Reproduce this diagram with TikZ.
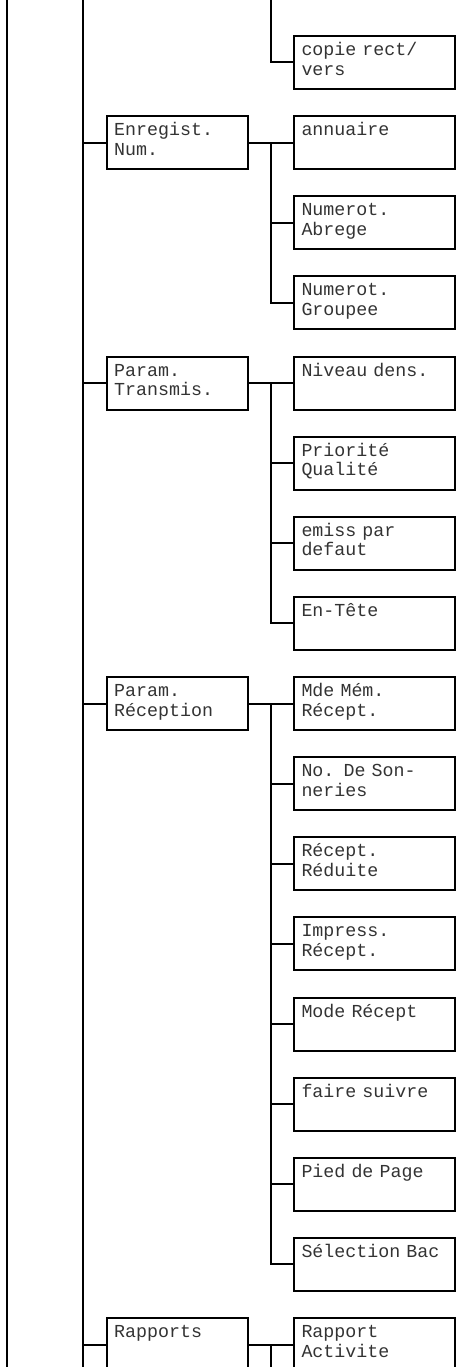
\documentclass[tikz,border=0pt]{standalone}
\usepackage{fontspec}
\newfontfamily\menufont{Liberation Mono}
\usetikzlibrary{calc}

% monospaced menu text: every space one character wide
\newcommand\menutext{\menufont\fontsize{18.3}{19.7}\selectfont
  \spaceskip=10.98pt\relax\xspaceskip=10.98pt\relax}

\tikzset{
  menu/.style={draw, line width=2pt, outer sep=0pt, anchor=north west,
    inner xsep=7.5pt, inner ysep=0pt, text height=19.5pt, text depth=33.5pt,
    align=left, text=black!80, font=\menutext},
  item/.style={menu, text width=146pt},
  group/.style={menu, text width=126pt},
  wire/.style={line width=2pt}
}

\begin{document}
\begin{tikzpicture}[x=1pt, y=-1pt]
\useasboundingbox (0,0) rectangle (456,1367);

% the two long spines on the left
\coordinate (l1t) at (7.3,0);
\coordinate (l1b) at (7.3,1367);
\coordinate (l2t) at (83.3,0);
\coordinate (l2b) at (83.3,1367);
\coordinate (top) at (270.7,0);
\coordinate (bot) at (270.7,1367);
\draw[wire] (l1t) -- (l1b);
\draw[wire] (l2t) -- (l2b);

% tail of the previous group
\node[item] (copie) at (294,36) {copie rect/\\vers};
\draw[wire] (top) |- (copie.west);

% Enregist. Num.
\node[group] (enreg) at (106.7,116.125) {Enregist.\\Num.};
\node[item] (annu) at (294,116.125) {annuaire};
\node[item] (abrege) at (294,196.25) {Numerot.\\Abrege};
\node[item] (groupee) at (294,276.375) {Numerot.\\Groupee};
\coordinate (s1) at ($(enreg.east)!.5!(annu.west)$);
\draw[wire] (l2t |- enreg.west) -- (enreg.west);
\draw[wire] (enreg.east) -- (annu.west);
\draw[wire] (s1) |- (groupee.west) (s1 |- abrege.west) -- (abrege.west);

% Param. Transmis.
\node[group] (transm) at (106.7,356.5) {Param.\\Transmis.};
\node[item] (niveau) at (294,356.5) {Niveau dens.};
\node[item] (prio) at (294,436.625) {Priorité\\Qualité};
\node[item] (emiss) at (294,516.75) {emiss par\\defaut};
\node[item] (entete) at (294,596.875) {En-Tête};
\coordinate (s2) at ($(transm.east)!.5!(niveau.west)$);
\draw[wire] (l2t |- transm.west) -- (transm.west);
\draw[wire] (transm.east) -- (niveau.west);
\draw[wire] (s2) |- (entete.west) (s2 |- prio.west) -- (prio.west)
  (s2 |- emiss.west) -- (emiss.west);

% Param. Reception
\node[group] (recep) at (106.7,677) {Param.\\Réception};
\node[item] (memrec) at (294,677) {Mde Mém.\\Récept.};
\node[item] (sonn) at (294,757.125) {No. De Son-\\neries};
\node[item] (reduite) at (294,837.25) {Récept.\\Réduite};
\node[item] (impress) at (294,917.375) {Impress.\\Récept.};
\node[item] (mode) at (294,997.5) {Mode Récept};
\node[item] (suivre) at (294,1077.625) {faire suivre};
\node[item] (pied) at (294,1157.75) {Pied de Page};
\node[item] (bac) at (294,1237.875) {Sélection Bac};
\coordinate (s3) at ($(recep.east)!.5!(memrec.west)$);
\draw[wire] (l2t |- recep.west) -- (recep.west);
\draw[wire] (recep.east) -- (memrec.west);
\draw[wire] (s3) |- (bac.west)
  (s3 |- sonn.west) -- (sonn.west)
  (s3 |- reduite.west) -- (reduite.west)
  (s3 |- impress.west) -- (impress.west)
  (s3 |- mode.west) -- (mode.west)
  (s3 |- suivre.west) -- (suivre.west)
  (s3 |- pied.west) -- (pied.west);

% Rapports, runs on below
\node[group] (rapp) at (106.7,1318) {Rapports};
\node[item] (activ) at (294,1318) {Rapport\\Activite};
\coordinate (s4) at ($(rapp.east)!.5!(activ.west)$);
\draw[wire] (l2t |- rapp.west) -- (rapp.west);
\draw[wire] (rapp.east) -- (activ.west);
\draw[wire] (s4) -- (s4 |- bot);

\end{tikzpicture}
\end{document}
